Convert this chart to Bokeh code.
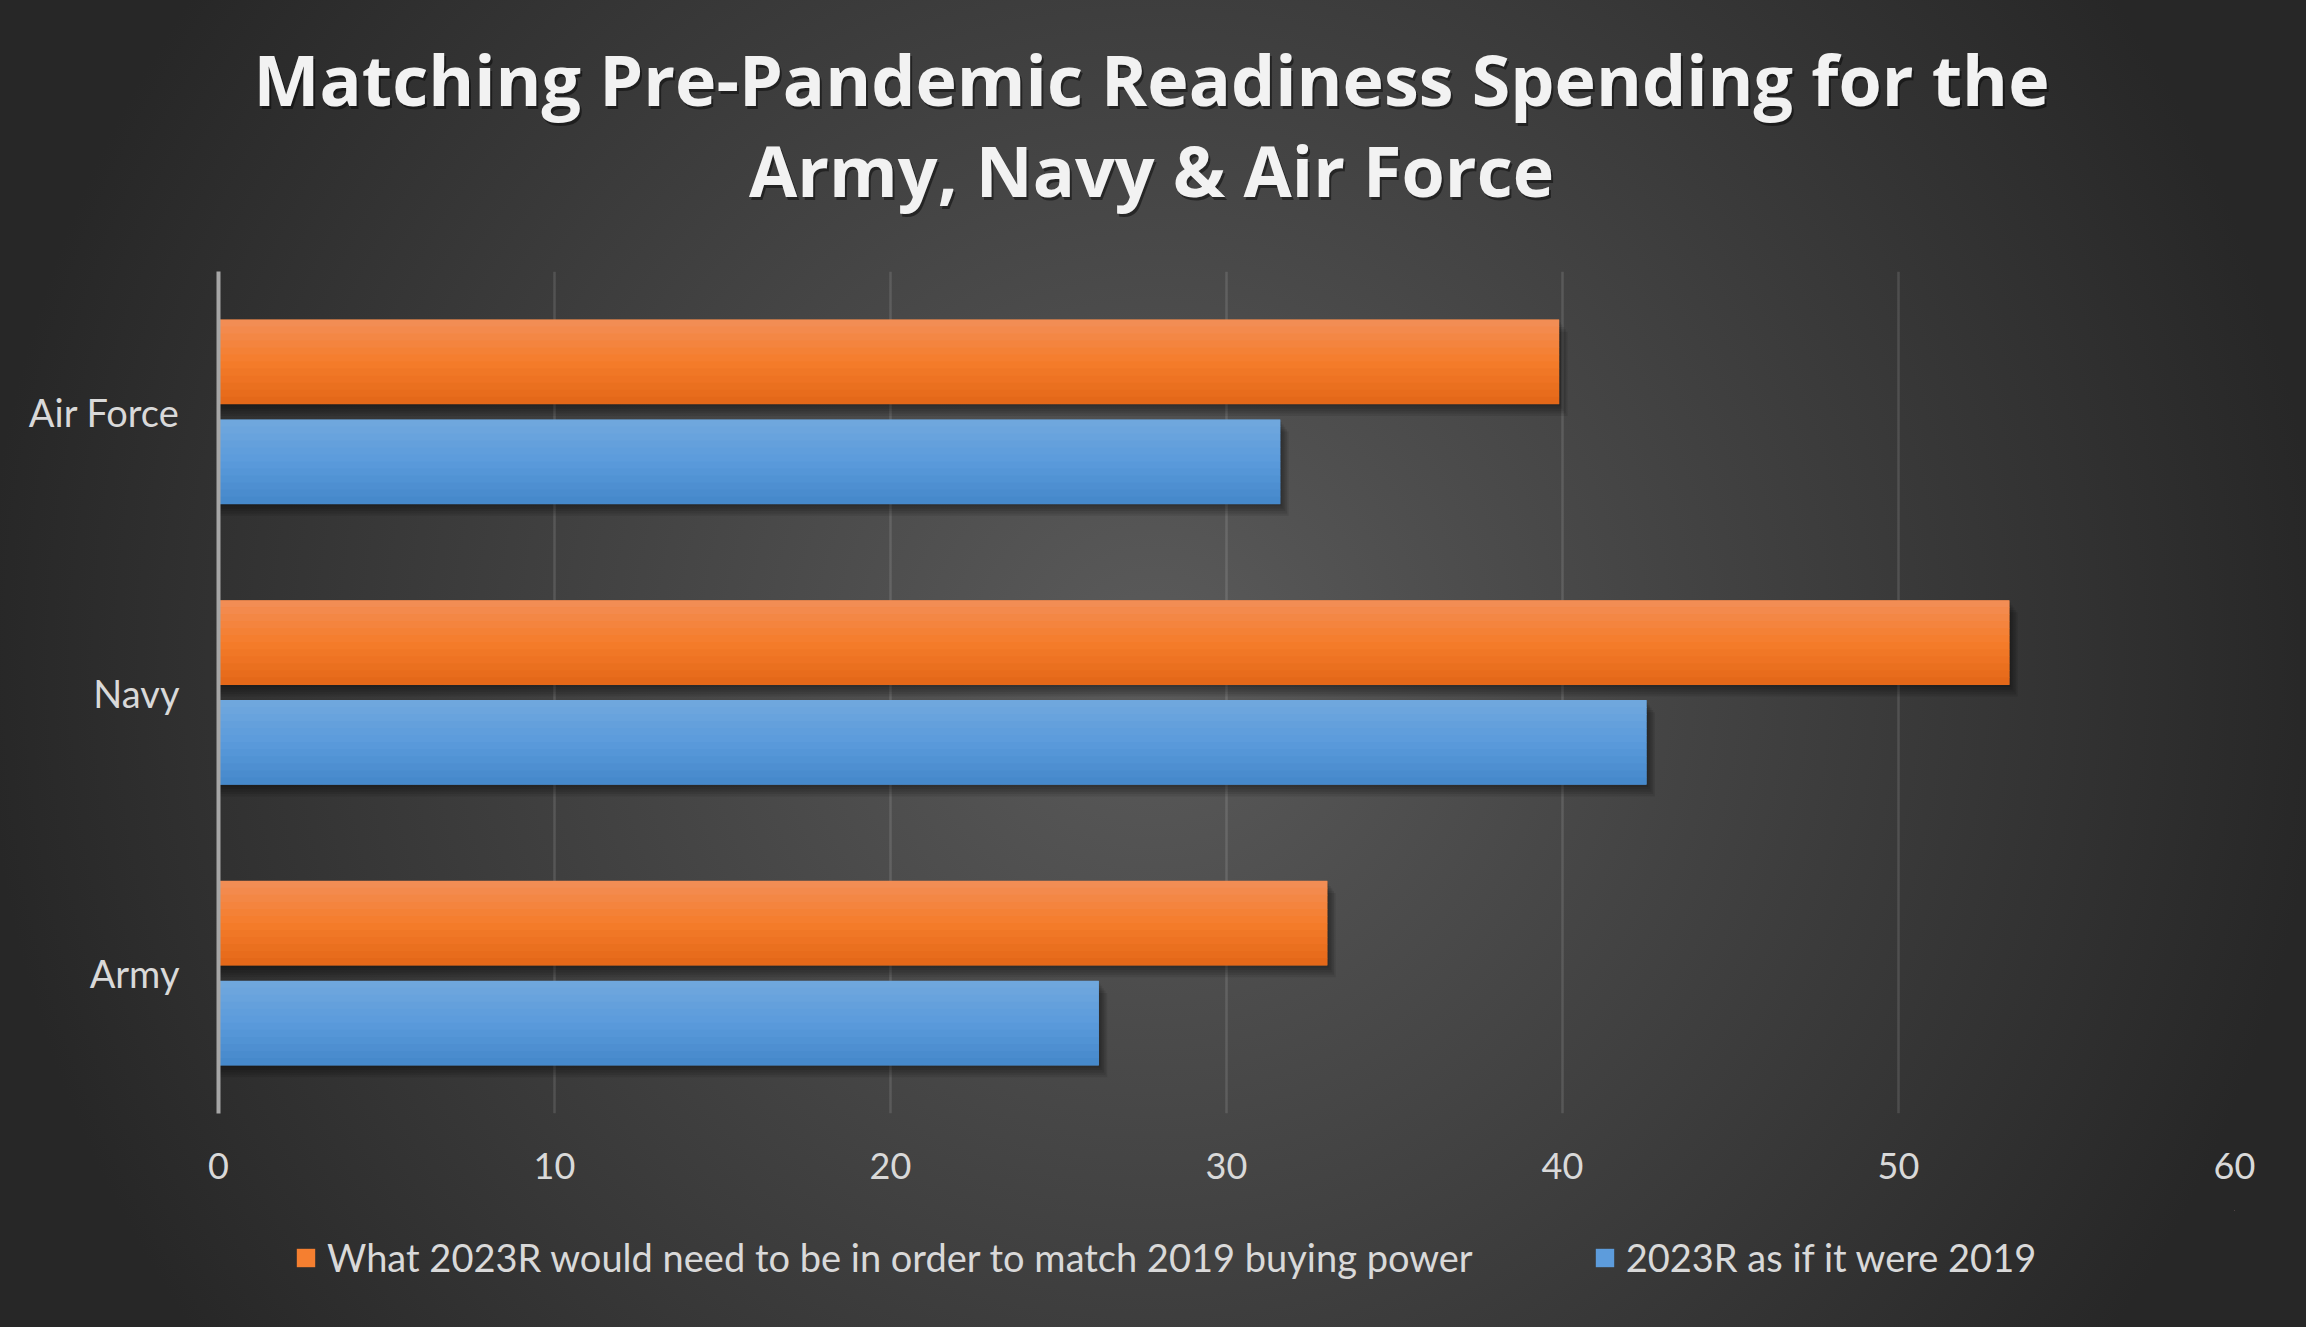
from bokeh.plotting import figure
from bokeh.layouts import column
from bokeh.models import (Range1d, FactorRange, FixedTicker, Label, Legend,
                          LegendItem, ColumnDataSource)
from bokeh.transform import dodge
from bokeh.embed import file_html
from bokeh.resources import INLINE

# ---- data ----
categories = ["Army", "Navy", "Air Force"]
need_2019 = [33.0, 53.3, 39.9]      # What 2023R would need to be ...
as_if_2019 = [26.2, 42.5, 31.6]     # 2023R as if it were 2019
series_names = ["What 2023R would need to be in order to match 2019 buying power",
                "2023R as if it were 2019"]
x_ticks = [0, 10, 20, 30, 40, 50, 60]
title_lines = ["Matching Pre-Pandemic Readiness Spending for the",
               "Army, Navy & Air Force"]

# ---- layout constants (page pixels) ----
W, H = 2306, 1327
TITLE_H = 260          # height of the title strip
LEG_H = 117            # height of the legend strip
MAIN_H = H - TITLE_H - LEG_H
FL, FR, FT, FB = 218, 2234, 271, 1113   # plot frame on the page
FONT = "Lato"
TFONT = "Open Sans"
GC = (1153, 663)       # centre of the background glow on the page


def bg(top):
    return {"background": "radial-gradient(circle 1170px at %dpx %dpx, #5b5b5b 0%%, #272727 100%%)"
            % (GC[0], GC[1] - top)}


def strip(height, top, xr, yr):
    f = figure(width=W, height=height, x_range=xr, y_range=yr,
               x_axis_type=None, y_axis_type=None,
               output_backend="svg", toolbar_location=None,
               min_border=0, min_border_left=0, min_border_right=0,
               min_border_top=0, min_border_bottom=0)
    f.background_fill_color = None
    f.border_fill_color = None
    f.outline_line_color = None
    f.grid.visible = False
    f.styles = bg(top)
    return f


src = ColumnDataSource(dict(cat=categories, need=need_2019, asif=as_if_2019))

# ---------------- title strip ----------------
# (its frame is aligned with the chart frame by the column layout)
pt = strip(TITLE_H, 0, Range1d(FL, FR), Range1d(0, TITLE_H))
TITLE_CX = 1151
TITLE_DY = 27
for line, base_y in zip(title_lines, [105, 196]):
    y = TITLE_H - base_y + TITLE_DY
    pt.add_layout(Label(x=TITLE_CX + 2, y=y - 3, text=line,
                        text_align="center", text_baseline="alphabetic",
                        text_font=TFONT, text_font_style="bold",
                        text_font_size="70px", text_color="black",
                        text_alpha=0.45))
    pt.add_layout(Label(x=TITLE_CX, y=y, text=line,
                        text_align="center", text_baseline="alphabetic",
                        text_font=TFONT, text_font_style="bold",
                        text_font_size="70px", text_color="#f2f2f2"))

# ---------------- main chart ----------------
p = figure(width=W, height=MAIN_H, x_range=Range1d(0, 60),
           y_range=FactorRange(factors=categories),
           output_backend="svg", toolbar_location=None,
           min_border_left=FL, min_border_right=W - FR,
           min_border_top=FT - TITLE_H, min_border_bottom=TITLE_H + MAIN_H - FB)
p.title = None
p.background_fill_color = None
p.border_fill_color = None
p.outline_line_color = None
p.styles = bg(TITLE_H)

p.xaxis.ticker = FixedTicker(ticks=x_ticks)
p.xaxis.axis_line_color = None
p.xaxis.major_tick_line_color = None
p.xaxis.minor_tick_line_color = None
p.xaxis.major_tick_out = 0
p.xaxis.major_tick_in = 0
p.xaxis.major_label_text_font = FONT
p.xaxis.major_label_text_font_size = "36px"
p.xaxis.major_label_text_color = "#d9d9d9"
p.xaxis.major_label_standoff = 39

p.yaxis.axis_line_color = "#a6a6a6"
p.yaxis.axis_line_width = 4
p.yaxis.major_tick_line_color = None
p.yaxis.minor_tick_line_color = None
p.yaxis.major_label_text_font = FONT
p.yaxis.major_label_text_font_size = "38px"
p.yaxis.major_label_text_color = "#d9d9d9"
p.yaxis.major_label_standoff = 33

p.ygrid.grid_line_color = None
p.xgrid.ticker = FixedTicker(ticks=x_ticks)
p.xgrid.grid_line_color = "#ffffff"
p.xgrid.grid_line_alpha = 0.12
p.xgrid.grid_line_width = 2.5

BAR_H = 0.30
OFF = 0.178
N_BANDS = 12


def hex2rgb(h):
    h = h.lstrip("#")
    return [int(h[i:i + 2], 16) for i in (0, 2, 4)]


def grad(stops, t):
    for (t0, c0), (t1, c1) in zip(stops[:-1], stops[1:]):
        if t0 <= t <= t1:
            a = (t - t0) / (t1 - t0)
            r0, r1 = hex2rgb(c0), hex2rgb(c1)
            return "#%02x%02x%02x" % tuple(int(round(r0[i] + (r1[i] - r0[i]) * a)) for i in range(3))
    return stops[-1][1]


orange_stops = [(0.0, "#f28e58"), (0.5, "#f57d2b"), (1.0, "#e36617")]
blue_stops = [(0.0, "#71a8dd"), (0.5, "#5b9bdc"), (1.0, "#4487c9")]
series = [("need", OFF, orange_stops), ("asif", -OFF, blue_stops)]

for field, off, stops in series:
    for k in range(1, 6):   # soft drop shadow
        p.hbar(y=dodge("cat", off - 0.0085 * k, range=p.y_range), left=0,
               right=dodge(field, 0.05 * k), height=BAR_H,
               fill_color="black", fill_alpha=0.09, line_color=None, source=src)
    p.hbar(y=dodge("cat", off, range=p.y_range), left=0, right=field,
           height=BAR_H, fill_color=grad(stops, 0.5), line_color=None, source=src)
    bh = BAR_H / N_BANDS
    for i in range(N_BANDS):   # vertical colour gradient
        t = (i + 0.5) / N_BANDS
        c = off + BAR_H / 2 - (i + 0.5) * bh
        p.hbar(y=dodge("cat", c, range=p.y_range), left=0, right=field,
               height=bh + 0.002, fill_color=grad(stops, t), line_color=None,
               source=src)

# ---------------- legend strip ----------------
pl = strip(LEG_H, TITLE_H + MAIN_H, Range1d(-200, -100), Range1d(-200, -100))
leg_renderers = []
for field, off, stops in series:
    # same series, drawn outside this strip's view: they only feed the legend
    leg_renderers.append(pl.hbar(y=field, left=0, right=field, height=1,
                                 fill_color=grad(stops, 0.45), line_color=None,
                                 source=src))
legend = Legend(items=[LegendItem(label=series_names[0], renderers=[leg_renderers[0]]),
                       LegendItem(label=series_names[1], renderers=[leg_renderers[1]])],
                orientation="horizontal", location=(294 - FL, 47),
                glyph_width=23, glyph_height=23, label_standoff=10, spacing=120,
                padding=0, margin=0, border_line_color=None,
                background_fill_alpha=0,
                label_text_font=FONT, label_text_font_size="38px",
                label_text_color="#d9d9d9")
pl.add_layout(legend, "center")

layout = column(pt, p, pl, spacing=0)
open("out.html", "w").write(file_html(layout, INLINE))
